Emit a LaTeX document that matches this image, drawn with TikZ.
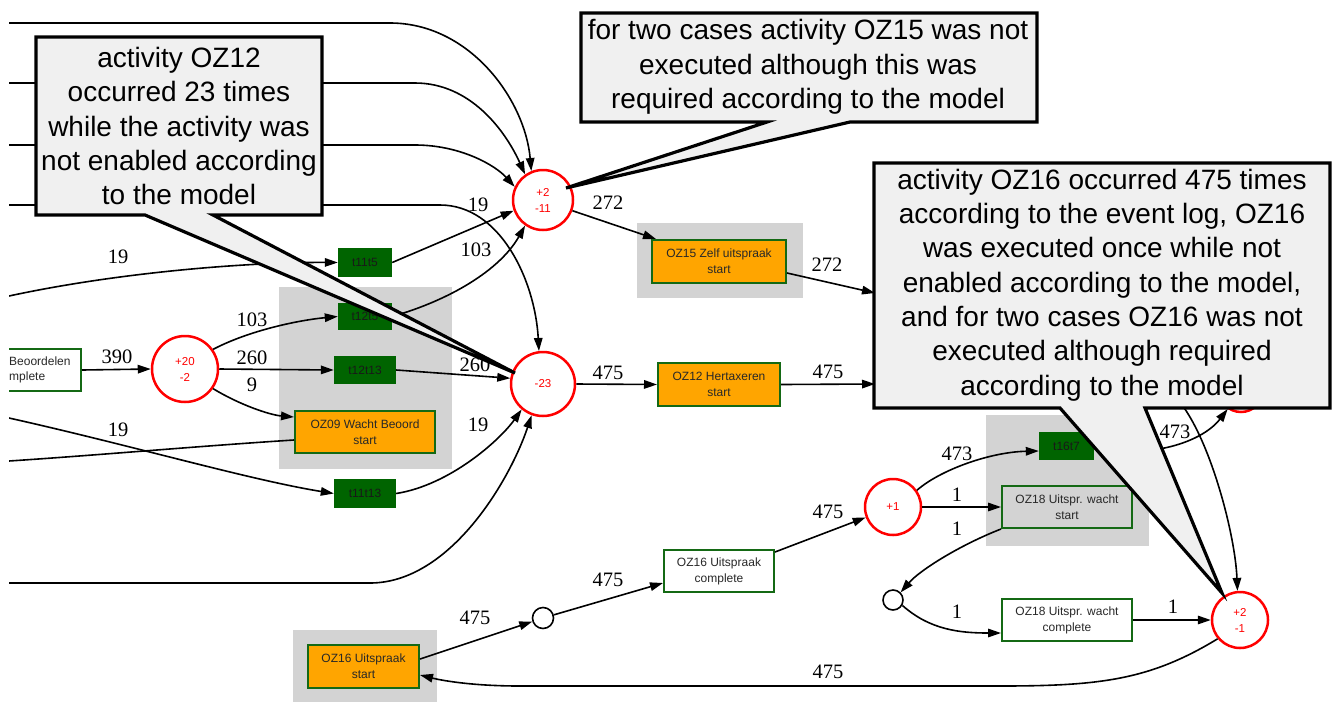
\documentclass[tikz,border=0pt]{standalone}
\usepackage{fontspec}
\setmainfont{Liberation Serif}
\newfontfamily\labelsans{Liberation Sans}
\usetikzlibrary{arrows.meta}
\definecolor{clustergray}{RGB}{211,211,211}
\definecolor{silentgreen}{RGB}{0,100,0}
\definecolor{framegreen}{RGB}{20,105,20}
\definecolor{startorange}{RGB}{255,165,0}
\definecolor{notefill}{RGB}{240,240,240}
\definecolor{placered}{RGB}{255,0,0}
\definecolor{nodetext}{RGB}{40,40,40}

\begin{document}
\begin{tikzpicture}[
  x=1pt, y=-1pt,
  flow/.style={line width=1.6pt, -{Triangle[length=13pt,width=8.5pt]}},
  flowplain/.style={line width=1.6pt},
  count/.style={font=\fontsize{20.5}{20.5}\selectfont, inner sep=0pt},
  act/.style={draw=framegreen, line width=2pt, minimum height=42pt, align=center, inner sep=1pt, text=nodetext, font=\labelsans\fontsize{12}{16}\selectfont},
  actstart/.style={act, fill=startorange},
  actdone/.style={act, fill=white},
  silent/.style={fill=silentgreen, minimum height=28pt, inner sep=0pt, text=black!90, font=\labelsans\fontsize{12}{12}\selectfont},
  place/.style={circle, draw=placered, line width=2.5pt, fill=white, inner sep=0pt, align=center, text=placered, font=\labelsans\fontsize{11.5}{16}\selectfont},
  emptyplace/.style={circle, draw=black, line width=1.6pt, fill=white, inner sep=0pt},
  cluster/.style={fill=clustergray},
  note/.style={fill=notefill, draw=black, line width=3.2pt, line join=miter},
  notetext/.style={align=center, inner sep=0pt, font=\labelsans\fontsize{28}{34.3}\selectfont},
]
\useasboundingbox (0,0) rectangle (1332,702);
\fill[white] (0,0) rectangle (1332,702);
\clip (9,0) rectangle (1332,702);

% ---- cluster backgrounds
\fill[cluster] (279,287) rectangle (452,469);
\fill[cluster] (637,223) rectangle (803,298);
\fill[cluster] (986,415) rectangle (1149,546);
\fill[cluster] (293,630) rectangle (437,702);

% ---- places
\node[place, minimum size=60pt] (p1) at (543,200) {+2\\-11};
\node[place, minimum size=64pt] (p2) at (543,384) {-23};
\node[place, minimum size=66pt] (p3) at (185,369) {+20\\-2};
\node[place, minimum size=56pt] (p4) at (893,507) {+1};
\node[place, minimum size=56pt] (p5) at (1240,620) {+2\\-1};
\node[place, minimum size=44pt] (p6) at (1241,390) {};
\node[emptyplace, minimum size=20pt] (q1) at (893,600) {};
\node[emptyplace, minimum size=21pt] (q2) at (543,618) {};

% ---- activities
\node[actdone, minimum width=110pt, anchor=east] (b0) at (82,370) {};
\node[anchor=west, align=left, inner sep=0pt, text=nodetext, font=\labelsans\fontsize{12}{15}\selectfont] (b0txt) at (9,370) {Beoordelen\\mplete};
\node[actstart, minimum width=140pt] (oz09) at (365,432) {OZ09 Wacht Beoord\\start};
\node[actstart, minimum width=134pt, minimum height=43pt] (oz15) at (719,261.5) {OZ15 Zelf uitspraak\\start};
\node[actstart, minimum width=122pt, minimum height=43pt] (oz12) at (719,384.5) {OZ12 Hertaxeren\\start};
\node[actstart, minimum width=111pt, minimum height=43pt] (oz16s) at (363.5,666.5) {OZ16 Uitspraak\\start};
\node[actdone, minimum width=110pt] (oz16c) at (719,571) {OZ16 Uitspraak\\complete};
\node[act, minimum width=130pt] (oz18s) at (1067,507) {OZ18 Uitspr. wacht\\start};
\node[actdone, minimum width=130pt] (oz18c) at (1067,620) {OZ18 Uitspr. wacht\\complete};

% ---- silent transitions
\node[silent, minimum width=54pt, minimum height=29pt] (t11t5) at (365,262.5) {t11t5};
\node[silent, minimum width=54pt, minimum height=27pt] (t12t5) at (365,316.5) {t12t5};
\node[silent, minimum width=62pt] (t12t13) at (365,370) {t12t13};
\node[silent, minimum width=62pt, minimum height=29pt] (t11t13) at (365,493.5) {t11t13};
\node[silent, minimum width=55pt] (t16t7) at (1066.5,446) {t16t7};

% ---- loose ends
\coordinate (in1) at (9,23);
\coordinate (in2) at (9,83);
\coordinate (in3) at (9,145);
\coordinate (in4) at (9,205);
\coordinate (in5) at (9,296);
\coordinate (in6) at (9,418);
\coordinate (out7) at (9,461);
\coordinate (in8) at (9,583);
\coordinate (x1) at (875,293);
\coordinate (x2) at (875,384);
\coordinate (hid) at (1170,392);

% ---- arcs
\draw[flow] (in1) -- (390,23) .. controls (470,23) and (525,100) .. (p1.112);
\draw[flow] (in2) -- (415,83) .. controls (470,83) and (505,130) .. (p1.125);
\draw[flow] (in3) -- (415,145) .. controls (460,145) and (495,165) .. (p1.155);
\draw[flow] (in4) -- (440,205) .. controls (500,205) and (535,280) .. (p2.97);
\draw[flow] (in5) .. controls (120,272) and (250,262) .. (t11t5.west);
\draw[flow] (in6) .. controls (130,445) and (250,480) .. (t11t13.west);
\draw[flowplain] ([yshift=-8pt]oz09.west) .. controls (200,446) and (100,455) .. (out7);
\draw[flow] (in8) -- (370,583) .. controls (450,583) and (510,480) .. (p2.250);
\draw[flow] (t11t13.east) .. controls (450,485) and (500,440) .. (p2.230);
\draw[flow] (b0.east) -- (p3.west);
\draw[flow] (p3.35) .. controls (250,330) and (300,320) .. (t12t5.west);
\draw[flow] (p3.east) -- (t12t13.west);
\draw[flow] (p3.-35) .. controls (240,405) and (270,415) .. ([yshift=-7pt]oz09.north west);
\draw[flow] (t12t13.east) -- (p2.170);
\draw[flow] (t11t5.east) -- (p1.200);
\draw[flow] (t12t5.east) .. controls (450,300) and (500,270) .. (p1.235);
\draw[flow] (p1.-20) -- ([xshift=5pt]oz15.north west);
\draw[flow] ([yshift=-11.5pt]oz15.east) -- (x1);
\draw[flow] (p2.east) -- (oz12.west);
\draw[flow] (oz12.east) -- (x2);
\draw[flow] ([yshift=7.5pt]oz16s.east) -- (q2);
\draw[flow] (q2) -- ([yshift=-12pt]oz16c.west);
\draw[flow] ([yshift=-3pt]oz16c.north east) -- (p4);
\draw[flow] (p4.35) .. controls (940,470) and (990,452) .. ([yshift=-5pt]t16t7.west);
\draw[flow] (p4.east) -- (oz18s.west);
\draw[flow] (oz18s.south west) .. controls (960,545) and (920,570) .. (q1.45);
\draw[flow] (q1.-30) .. controls (930,630) and (960,633) .. ([yshift=-13pt]oz18c.west);
\draw[flow] (oz18c.east) -- (p5.west);
\draw[flow] (p5.-140) .. controls (1150,680) and (1100,686) .. (1000,686) -- (520,686) .. controls (470,686) and (440,680) .. ([yshift=-8.5pt]oz16s.east);
\draw[flow] (t16t7.east) .. controls (1140,460) and (1200,445) .. (p6.-125);
\draw[flow] (hid) .. controls (1205,420) and (1235,530) .. (p5.95);

% ---- arc counts
\node[count] (n1) at (118,257) {19};
\node[count] (n2) at (117,357) {390};
\node[count] (n3) at (252,320) {103};
\node[count] (n4) at (252,358) {260};
\node[count] (n5) at (252,385) {9};
\node[count] (n6) at (118,430) {19};
\node[count] (n7) at (478,205) {19};
\node[count] (n8) at (476,250) {103};
\node[count] (n9) at (475,365) {260};
\node[count] (n10) at (478,425) {19};
\node[count] (n11) at (608,203) {272};
\node[count] (n12) at (827,265) {272};
\node[count] (n13) at (608,373) {475};
\node[count] (n14) at (828,372) {475};
\node[count] (n15) at (828,512) {475};
\node[count] (n16) at (608,580) {475};
\node[count] (n17) at (475,618) {475};
\node[count] (n18) at (828,672) {475};
\node[count] (n19) at (957,454) {473};
\node[count] (n20) at (957,495) {1};
\node[count] (n21) at (957,529) {1};
\node[count] (n22) at (957,612) {1};
\node[count] (n23) at (1173,607) {1};
\node[count] (n24) at (1175,432) {473};

% ---- annotation balloons
\draw[note] (36,37) -- (322,37) -- (322,215) -- (213,215) -- (515,373) -- (145,215) -- (36,215) -- cycle;
\node[notetext] (c1) at (179,126) {activity OZ12\\occurred 23 times\\while the activity was\\not enabled according\\to the model};

\draw[note] (581,13) -- (1037,13) -- (1037,122) -- (850,122) -- (566,188) -- (767,122) -- (581,122) -- cycle;
\node[notetext] (c2) at (808,67) {for two cases activity OZ15 was not\\executed although this was\\required according to the model};

\draw[note] (874,163) -- (1330,163) -- (1330,408) -- (1145,408) -- (1222,593) -- (1060,408) -- (874,408) -- cycle;
\node[notetext] (c3) at (1102,285) {activity OZ16 occurred 475 times\\according to the event log, OZ16\\was executed once while not\\enabled according to the model,\\and for two cases OZ16 was not\\executed although required\\according to the model};
\end{tikzpicture}
\end{document}
